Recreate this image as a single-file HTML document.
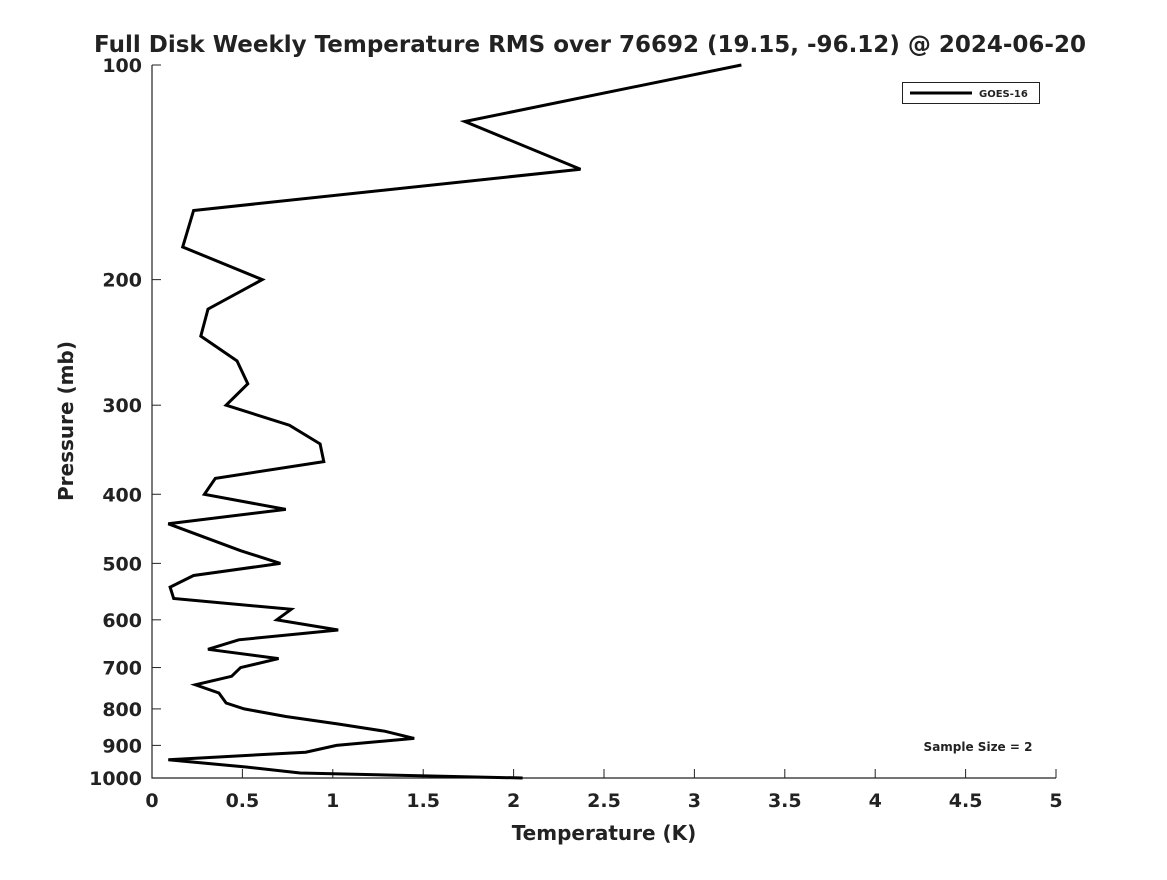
<!DOCTYPE html>
<html><head><meta charset="utf-8"><style>
body{margin:0;background:#fff;}
svg text{font-family:"DejaVu Sans","Liberation Sans",sans-serif;font-weight:bold;fill:#222;}
</style></head><body>
<svg id="chart" width="1167" height="875">
<text x="590" y="52" text-anchor="middle" font-size="23">Full Disk Weekly Temperature RMS over 76692 (19.15, -96.12) @ 2024-06-20</text>
<g id="axes"></g>
<text x="604" y="840" text-anchor="middle" font-size="20">Temperature (K)</text>
<text transform="translate(73,421) rotate(-90)" text-anchor="middle" font-size="20">Pressure (mb)</text>
<g>
<rect x="902.5" y="82.5" width="137" height="21" fill="#fff" stroke="#222"/>
<line x1="910" y1="93" x2="972" y2="93" stroke="#000" stroke-width="3"/>
<text x="979" y="97" font-size="10">GOES-16</text>
</g>
<text x="978" y="751" text-anchor="middle" font-size="12">Sample Size = 2</text>
</svg>
<script>
const pressures=[100,120,140,160,180,200,220,240,260,280,300,320,340,360,380,400,420,440,480,500,520,540,560,580,600,620,640,660,680,700,720,740,760,785,800,820,840,860,880,900,920,943,965,984,1000];
const rmsValues=[3.26,1.73,2.37,0.23,0.17,0.61,0.31,0.27,0.47,0.53,0.41,0.76,0.93,0.95,0.35,0.29,0.74,0.09,0.49,0.71,0.23,0.10,0.12,0.77,0.69,1.03,0.48,0.31,0.70,0.49,0.44,0.24,0.37,0.41,0.51,0.74,1.03,1.29,1.45,1.02,0.85,0.09,0.52,0.82,2.05];
const xTicks=[0,0.5,1,1.5,2,2.5,3,3.5,4,4.5,5];
const yTicks=[100,200,300,400,500,600,700,800,900,1000];
const L=152,R=1056,T=65,B=778;
const xs=v=>L+(v-0)/5*(R-L);
const ys=p=>T+Math.log10(p/100)*(B-T);
const NS="http://www.w3.org/2000/svg";
const g=document.getElementById('axes');
function mk(tag,a){const e=document.createElementNS(NS,tag);for(const k in a)e.setAttribute(k,a[k]);return e;}
let ax=mk('path',{d:`M${L} ${T}V${B}H${R}`,fill:'none',stroke:'#222','stroke-width':1.2});


g.appendChild(ax);
xTicks.forEach(v=>{
  const x=xs(v);
  const t=mk('line',{x1:x,y1:B,x2:x,y2:B-9,stroke:'#222'});
  
  
  g.appendChild(t);
  const lb=mk('text',{x:x,y:B+29,'text-anchor':'middle','font-size':19});
  lb.textContent=String(v);
  
  
  g.appendChild(lb);
});
yTicks.forEach(p=>{
  const y=ys(p);
  const t=mk('line',{x1:L,y1:y,x2:L+9,y2:y,stroke:'#222'});
  
  
  g.appendChild(t);
  const lb=mk('text',{x:L-10,y:y+7,'text-anchor':'end','font-size':19});
  lb.textContent=String(p);
  
  
  g.appendChild(lb);
});
const pts=pressures.map((p,i)=>xs(rmsValues[i]).toFixed(1)+','+ys(p).toFixed(1)).join(' ');
const line=mk('polyline',{points:pts,fill:'none',stroke:'#000','stroke-width':3,'stroke-linejoin':'miter'});


g.appendChild(line);
</script>
</body></html>
